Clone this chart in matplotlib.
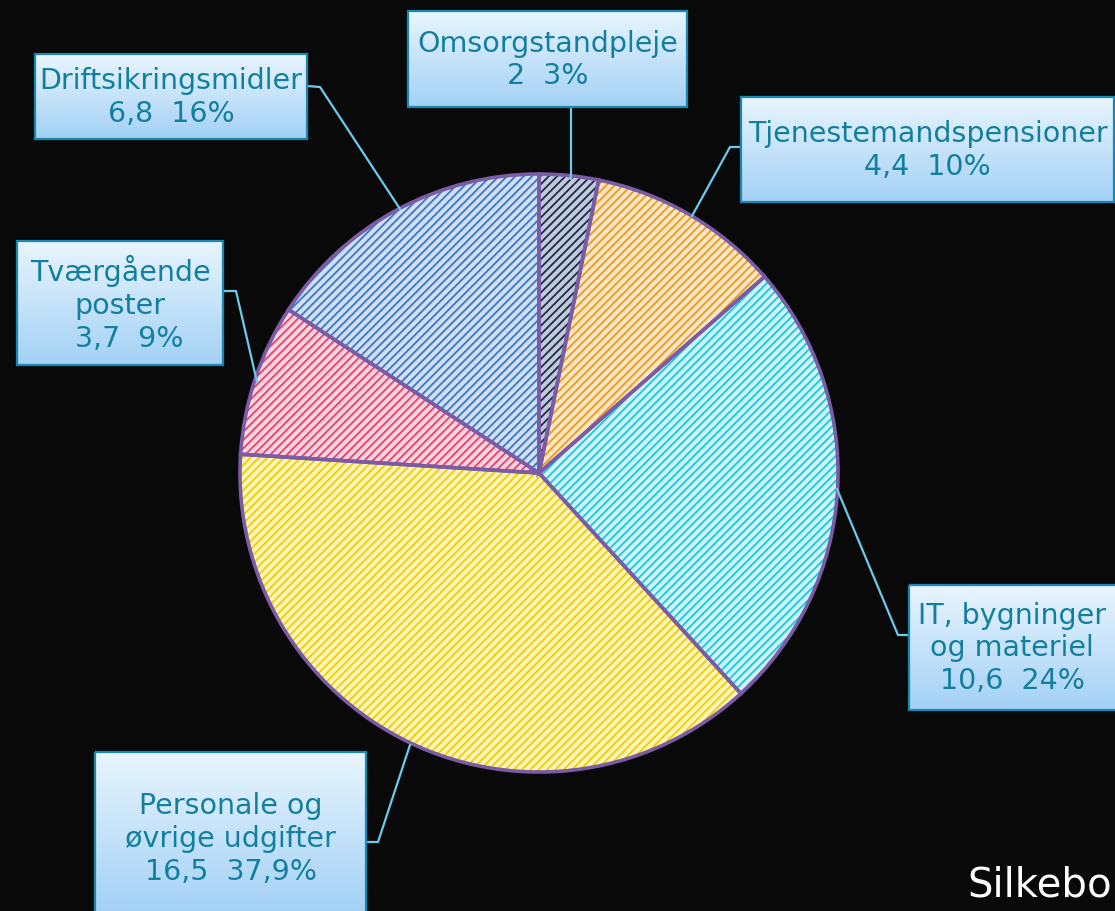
#!/usr/bin/env python3
"""Pie chart of budget areas with boxed labels (pixel layout)."""

from matplotlib import pyplot as plt
from matplotlib.patches import Rectangle
import numpy as np

# Data
categories = ["Omsorgstandpleje", "Tjenestemandspensioner",
              "IT, bygninger\nog materiel", "Personale og\nøvrige udgifter",
              "Tværgående\nposter", "Driftsikringsmidler"]
amounts = ["2", "4,4", "10,6", "16,5", "3,7", "6,8"]
share_labels = ["3%", "10%", "24%", "37,9%", "9%", "16%"]
# slice sizes as drawn (percent of the circle)
slice_sizes = [3.2, 10.4, 24.6, 37.8, 8.2, 15.8]

fills = ["#c0cadb", "#fde6c4", "#cdf4f9", "#fff5b8", "#fbd3de", "#d3def3"]
hatches = ["#1d2a48", "#e99a22", "#1cc6df", "#f2cb05", "#e6426d", "#3778c6"]

# label boxes: (left, top, right, bottom) in pixels, leader line points
boxes = [(408, 12, 687, 108), (741, 98, 1114, 203), (909, 586, 1118, 711),
         (95, 753, 366, 915), (17, 242, 223, 366), (35, 55, 307, 140)]
leaders = [[(571, 108), (571, 180)],
           [(741, 148), (730, 148), (692, 217)],
           [(909, 636), (898, 636), (837, 490)],
           [(366, 843), (378, 843), (410, 746)],
           [(223, 292), (236, 292), (257, 383)],
           [(307, 87), (320, 88), (400, 210)]]

W, H = 1115, 912
CX, CY, R = 539, 474, 299

plt.rcParams["font.family"] = ["DejaVu Sans Condensed", "DejaVu Sans"]
plt.rcParams["hatch.linewidth"] = 1.3

fig = plt.figure(figsize=(W / 100, H / 100), dpi=100, facecolor="#090909")
ax = fig.add_axes([0, 0, 1, 1])
ax.set_facecolor("#090909")

# y axis is inverted (pixel coords), so counterclock in data = clockwise on screen
common = dict(radius=R, center=(CX, CY), startangle=270, counterclock=True,
              frame=True)
ax.pie(slice_sizes, colors=fills, wedgeprops=dict(linewidth=0), **common)
wedges, _ = ax.pie(slice_sizes, colors=["none"] * 6,
                   wedgeprops=dict(linewidth=0), **common)
for w, hc in zip(wedges, hatches):
    w.set_hatch("////")
    w.set_edgecolor(hc)
ax.pie(slice_sizes, colors=["none"] * 6,
       wedgeprops=dict(linewidth=2.6, edgecolor="#7a5ca6"), **common)

grad = np.linspace(0, 1, 64).reshape(-1, 1)
top_c = np.array([0.91, 0.96, 0.995])
bot_c = np.array([0.64, 0.82, 0.96])
img = top_c + (bot_c - top_c) * grad[..., None]

for cat, amt, pl, (x0, y0, x1, y1), pts in zip(
        categories, amounts, share_labels, boxes, leaders):
    xs, ys = zip(*pts)
    ax.plot(xs, ys, color="#6ccbea", lw=1.6, zorder=3)
    ax.imshow(img, extent=(x0, x1, y1, y0), origin="upper",
              aspect="auto", zorder=4)
    ax.add_patch(Rectangle((x0, y0), x1 - x0, y1 - y0, fill=False,
                           edgecolor="#1888b0", lw=1.6, zorder=5))
    txt = f"{cat}\n{amt}  {pl}"
    if cat.startswith("Tværg"):
        txt = f"{cat}\n  {amt}  {pl}"
    ty = (y0 + min(y1, H)) / 2
    if cat.startswith("Personale"):
        ty = 839
    ax.text((x0 + min(x1, W)) / 2, ty, txt, ha="center", va="center",
            fontsize=20.5, color="#137f9f", linespacing=1.22, zorder=6)

ax.text(1112, 886, "Silkebo", color="white", fontsize=29,
        va="center", ha="right", family="DejaVu Sans")

ax.set_xlim(0, W)
ax.set_ylim(H, 0)
ax.set_aspect("equal")
ax.axis("off")

fig.savefig("out.png", dpi=100, facecolor=fig.get_facecolor())
